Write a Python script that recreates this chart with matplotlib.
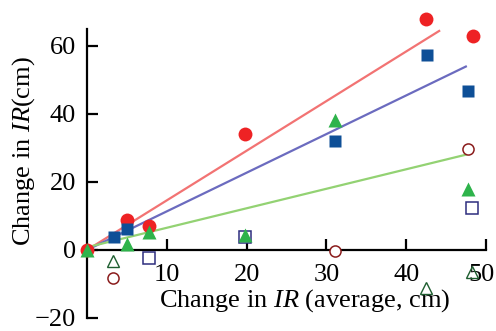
import matplotlib
matplotlib.use("Agg")
import matplotlib.pyplot as plt
import matplotlib.transforms as mtransforms

# data
red_x = [0, 5, 7.75, 19.75, 42.5, 48.4]
red_y = [0, 8.8, 7.0, 34.2, 67.8, 62.9]
blue_x = [3.4, 5, 31.1, 42.6, 47.75]
blue_y = [3.8, 6.1, 32.2, 57.3, 46.8]
green_x = [0, 5, 7.75, 19.75, 31.1, 47.75]
green_y = [0, 1.8, 5.2, 4.4, 38.3, 17.8]
osq_x = [7.75, 19.75, 48.25]
osq_y = [-2.4, 3.8, 12.3]
ocirc_x = [3.3, 31.1, 47.75]
ocirc_y = [-8.2, -0.2, 29.8]
otri_x = [3.3, 42.5, 48.25]
otri_y = [-3.2, -11.1, -6.4]
red_line_x = [0, 44.25]
red_line_y = [0, 64.6]
blue_line_x = [0, 47.6]
blue_line_y = [0, 54.1]
green_line_x = [0, 47.6]
green_line_y = [0.8, 28.1]
xticks = [10, 20, 30, 40, 50]
yticks = [-20, 0, 20, 40, 60]

plt.rcParams['font.family'] = ['Liberation Serif', 'DejaVu Serif']
plt.rcParams['mathtext.fontset'] = 'custom'
plt.rcParams['mathtext.rm'] = 'Liberation Serif'
plt.rcParams['mathtext.it'] = 'Liberation Serif:italic'

fig = plt.figure(figsize=(4.96, 3.31), dpi=100)
ax = fig.add_axes([87/496, 13/331, 399/496, 289/331])
ax.set_xlim(0, 50)
ax.set_ylim(-20, 65)

ax.plot(red_line_x, red_line_y, color='#f27373', lw=1.6, zorder=2, solid_capstyle='butt')
ax.plot(blue_line_x, blue_line_y, color='#6b6bbf', lw=1.6, zorder=2, solid_capstyle='butt')
ax.plot(green_line_x, green_line_y, color='#93d273', lw=1.6, zorder=2, solid_capstyle='butt')

ax.plot(red_x, red_y, 'o', color='#ee2224', ms=10, mec='none', zorder=3, clip_on=False)
ax.plot(blue_x, blue_y, 's', color='#0e4f97', ms=8.5, mec='none', zorder=4, clip_on=False)
ax.plot(green_x, green_y, '^', color='#2eb34b', ms=10, mec='none', zorder=5, clip_on=False)
ax.plot(osq_x, osq_y, 's', mfc='white', mec='#2e2e7f', mew=1.1, ms=8, zorder=4.5, clip_on=False)
ax.plot(ocirc_x, ocirc_y, 'o', mfc='white', mec='#8a1c1c', mew=1.1, ms=8, zorder=6, clip_on=False)
ax.plot(otri_x, otri_y, '^', mfc='none', mec='#1e5e30', mew=1.0, ms=9, zorder=6, clip_on=False)

for s in ['top', 'right']:
    ax.spines[s].set_visible(False)
ax.spines['bottom'].set_position(('data', 0))
ax.spines['left'].set_linewidth(1.6)
ax.spines['bottom'].set_linewidth(1.6)

ax.set_xticks(xticks)
ax.set_yticks(yticks)
ax.set_yticklabels(['\u221220' if v < 0 else str(v) for v in yticks])
ax.tick_params(axis='x', direction='in', length=8, width=1.6, pad=10, labelsize=19)
ax.tick_params(axis='y', direction='in', length=8, width=1.6, pad=8, labelsize=19)

# nudge the last x tick label left so it stays inside the figure
last = ax.get_xticklabels()[-1]
last.set_transform(last.get_transform() + mtransforms.ScaledTranslation(-5/100, 0, fig.dpi_scale_trans))

ax.set_xlabel('Change in $\\mathit{IR}$ (average, cm)', fontsize=19, va='center')
ax.xaxis.set_label_coords(0.545, 0.062)
ax.set_ylabel('Change in $\\mathit{IR}$(cm)', fontsize=19, va='center')
ax.yaxis.set_label_coords(-0.16, 0.578)

fig.savefig('out.png', dpi=100)
